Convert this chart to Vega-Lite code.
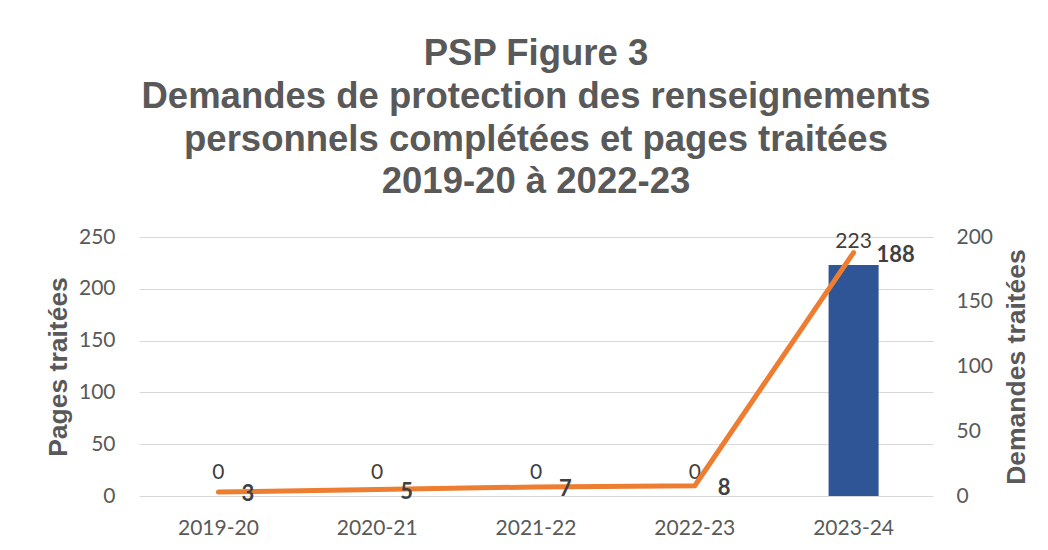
{
  "$schema": "https://vega.github.io/schema/vega-lite/v6.json",
  "width": 794,
  "height": 259,
  "autosize": "none",
  "padding": {"left": 139, "top": 237, "right": 116, "bottom": 54},
  "background": "white",
  "title": {
    "text": ["PSP Figure 3", "Demandes de protection des renseignements", "personnels complétées et pages traitées", "2019-20 à 2022-23"],
    "font": "Liberation Sans",
    "fontSize": 36.5,
    "fontWeight": "bold",
    "color": "#595959",
    "lineHeight": 42.8,
    "anchor": "middle",
    "frame": "group",
    "offset": 25
  },
  "data": {
    "values": [
      {"year": "2019-20", "pages": 0, "demandes": 3},
      {"year": "2020-21", "pages": 0, "demandes": 5},
      {"year": "2021-22", "pages": 0, "demandes": 7},
      {"year": "2022-23", "pages": 0, "demandes": 8},
      {"year": "2023-24", "pages": 223, "demandes": 188}
    ]
  },
  "encoding": {
    "x": {
      "field": "year",
      "type": "nominal",
      "sort": null,
      "scale": {"paddingInner": 0.685, "paddingOuter": 0.3425},
      "axis": {
        "title": null,
        "labelAngle": 0,
        "domain": false,
        "ticks": false,
        "grid": false,
        "labelPadding": 21,
        "labelFont": "Lato",
        "labelFontSize": 21,
        "labelColor": "#595959"
      }
    }
  },
  "layer": [
    {
      "encoding": {
        "y": {
          "field": "pages",
          "type": "quantitative",
          "scale": {"domain": [0, 250], "nice": false},
          "axis": {
            "title": "Pages traitées",
            "orient": "left",
            "values": [0, 50, 100, 150, 200, 250],
            "domain": false,
            "ticks": false,
            "grid": true,
            "gridColor": "#D9D9D9",
            "gridWidth": 1,
            "labelPadding": 24,
            "labelFont": "Lato",
            "labelFontSize": 21,
            "labelColor": "#595959",
            "titleFont": "Liberation Sans",
            "titleFontSize": 26.5,
            "titleFontWeight": "bold",
            "titleColor": "#595959",
            "titlePadding": 6
          }
        }
      },
      "layer": [
        {"mark": {"type": "bar", "color": "#2F5597"}},
        {
          "mark": {"type": "text", "font": "Lato", "fontSize": 21, "color": "#404040", "baseline": "alphabetic", "dy": -17},
          "encoding": {"text": {"field": "pages", "type": "quantitative"}}
        }
      ]
    },
    {
      "encoding": {
        "y": {
          "field": "demandes",
          "type": "quantitative",
          "scale": {"domain": [0, 200], "nice": false},
          "axis": {
            "title": "Demandes traitées",
            "orient": "right",
            "values": [0, 50, 100, 150, 200],
            "domain": false,
            "ticks": false,
            "grid": false,
            "labelPadding": 23,
            "labelFont": "Lato",
            "labelFontSize": 21,
            "labelColor": "#595959",
            "titleFont": "Liberation Sans",
            "titleFontSize": 26.5,
            "titleFontWeight": "bold",
            "titleColor": "#595959",
            "titleAngle": 270,
            "titlePadding": 38
          }
        }
      },
      "layer": [
        {"mark": {"type": "line", "color": "#ED7D31", "strokeWidth": 5, "strokeCap": "round"}},
        {
          "mark": {"type": "text", "font": "Lato", "fontSize": 22, "fontWeight": "bold", "color": "#404040", "align": "left", "baseline": "middle", "dx": 23, "dy": 2},
          "encoding": {"text": {"field": "demandes", "type": "quantitative"}}
        }
      ]
    }
  ],
  "resolve": {"scale": {"y": "independent"}},
  "config": {"view": {"stroke": null}}
}
